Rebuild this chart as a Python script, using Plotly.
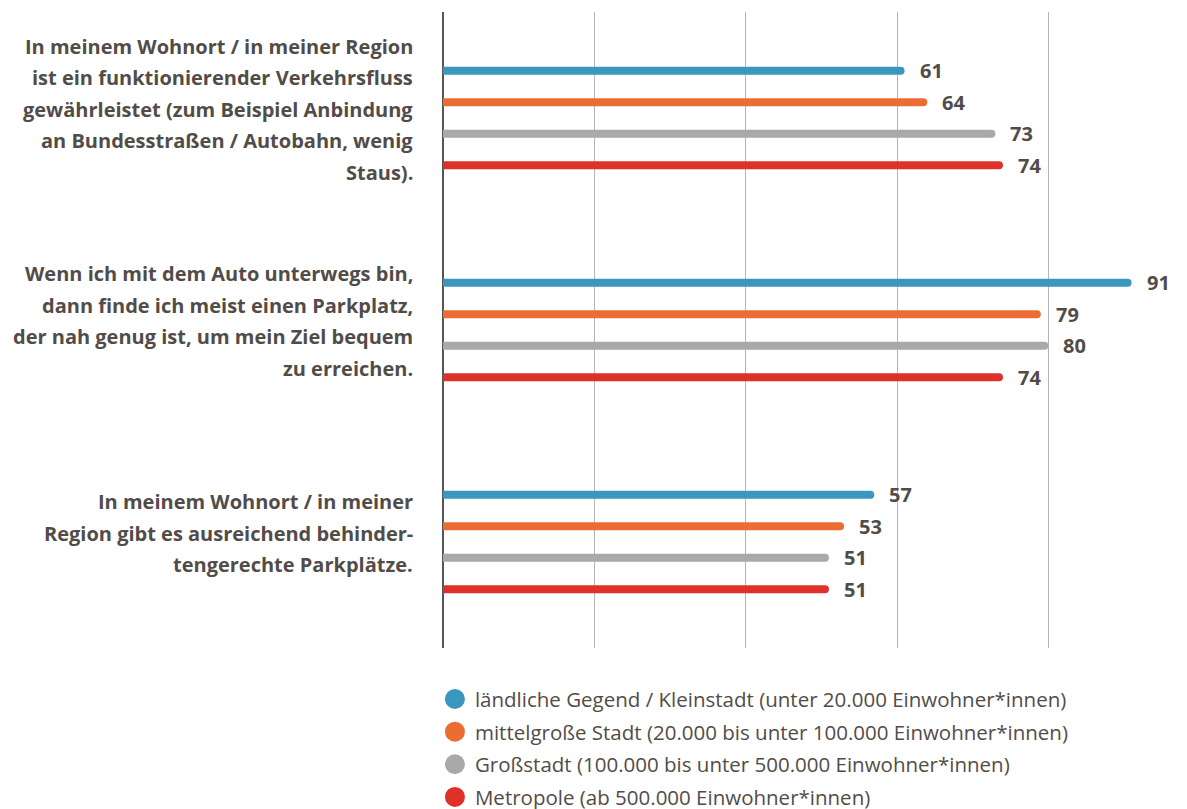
import plotly.graph_objects as go

categories = ["Verkehrsfluss", "Parkplatz", "Behindertenparkplätze"]
category_lines = [
    ["In meinem Wohnort / in meiner Region",
     "ist ein funktionierender Verkehrsfluss",
     "gewährleistet (zum Beispiel Anbindung",
     "an Bundesstraßen / Autobahn, wenig",
     "Staus)."],
    ["Wenn ich mit dem Auto unterwegs bin,",
     "dann finde ich meist einen Parkplatz,",
     "der nah genug ist, um mein Ziel bequem",
     "zu erreichen."],
    ["In meinem Wohnort / in meiner",
     "Region gibt es ausreichend behinder-",
     "tengerechte Parkplätze."],
]
series_names = [
    "ländliche Gegend / Kleinstadt (unter 20.000 Einwohner*innen)",
    "mittelgroße Stadt (20.000 bis unter 100.000 Einwohner*innen)",
    "Großstadt (100.000 bis unter 500.000 Einwohner*innen)",
    "Metropole (ab 500.000 Einwohner*innen)",
]
laendlich = [61, 91, 57]
mittelgross = [64, 79, 53]
grossstadt = [73, 80, 51]
metropole = [74, 74, 51]
series_values = [laendlich, mittelgross, grossstadt, metropole]
colors = ["#3A97BE", "#EC6D33", "#A9A9A9", "#E0302A"]

TEXT = "#524c49"
FONT = "Open Sans"
fig = go.Figure()
for name, vals, col in zip(series_names, series_values, colors):
    fig.add_trace(go.Bar(
        y=categories, x=vals, orientation="h", name=name,
        marker=dict(color=col, cornerradius=4, line=dict(width=0)),
        showlegend=False, hoverinfo="x",
    ))
for i, (name, col) in enumerate(zip(series_names, colors)):
    fig.add_trace(go.Scatter(
        x=[None], y=[None], mode="markers", name=name,
        marker=dict(color=col, size=16, symbol="circle",
                    line=dict(color=col, width=4)),
        legendgroup=f"g{i}", showlegend=True,
    ))

annotations = []
n = len(series_values)
slot = 31.5
for si, vals in enumerate(series_values):
    for ci, v in enumerate(vals):
        annotations.append(dict(
            x=v, y=categories[ci], xref="x", yref="y",
            text=f"<b>{v}</b>", showarrow=False,
            xanchor="left", yanchor="middle", xshift=13,
            yshift=-(si - (n - 1) / 2) * slot,
            font=dict(family=FONT, size=20, color=TEXT),
        ))
for ci, lines in enumerate(category_lines):
    m = len(lines)
    for li, line in enumerate(lines):
        annotations.append(dict(
            x=0, y=categories[ci], xref="x", yref="y",
            text=f"<b>{line}</b>", showarrow=False,
            xanchor="right", yanchor="middle", xshift=-28,
            yshift=-(li - (m - 1) / 2) * slot + 9,
            font=dict(family=FONT, size=20, color=TEXT),
        ))

fig.update_layout(
    width=1187, height=809,
    margin=dict(l=435, r=18, t=4, b=169, autoexpand=False),
    paper_bgcolor="white", plot_bgcolor="white",
    barmode="group", bargap=0.406, bargroupgap=0.746,
    xaxis=dict(range=[0, 97], dtick=20, showgrid=True, gridcolor="#b5b5b5",
               gridwidth=1, showticklabels=False, zeroline=True,
               zerolinecolor="#555555", zerolinewidth=1.5, ticks=""),
    yaxis=dict(autorange="reversed", showticklabels=False, showgrid=False,
               zeroline=False, ticks=""),
    legend=dict(x=-0.011, xanchor="left", y=-0.049, yanchor="top",
                font=dict(family=FONT, size=20.5, color=TEXT),
                tracegroupgap=3, itemsizing="trace", traceorder="grouped",
                bgcolor="rgba(0,0,0,0)"),
    annotations=annotations,
    showlegend=True,
)
fig.write_html("out.html")
